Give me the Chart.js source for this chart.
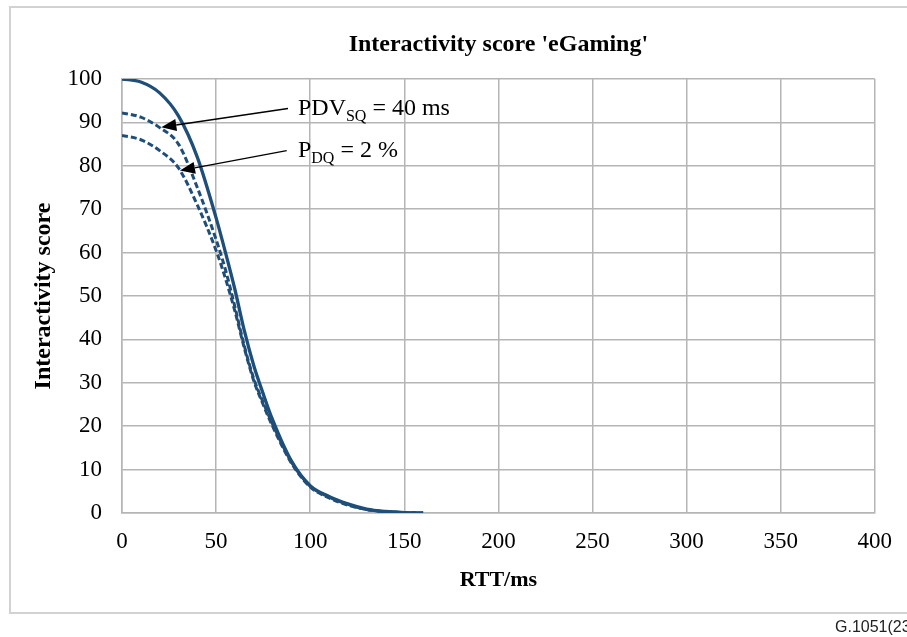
<!DOCTYPE html>
<html>
<head>
<meta charset="utf-8">
<script src="https://cdn.jsdelivr.net/npm/chart.js@4"></script>
<style>
  body { margin: 0; width: 907px; height: 637px; overflow: hidden; background: #fff; position: relative; }
  #frame { position: absolute; left: 9px; top: 6px; width: 1000px; height: 604px;
           border: 2px solid #d2d2d2; border-right: none; }
  #wrap { position: absolute; left: 0; top: 0; width: 907px; height: 637px; }
  #caption { position: absolute; left: 835px; top: 618px; font: 16px "Liberation Sans", Arial, sans-serif;
             color: #222; white-space: nowrap; }
</style>
</head>
<body>
<div id="frame"></div>
<div id="wrap"><canvas id="chart" width="907" height="637"></canvas></div>
<div id="caption">G.1051(23)</div>
<script>
// RTT values (ms) and the three interactivity curves
const rtt = [0, 10, 20, 30, 40, 50, 55, 60, 65, 70, 75, 80, 90, 100, 110, 120, 130, 140, 150, 160];
const scoreBase = [100, 99.3, 96.8, 91.5, 82, 68, 60, 51.5, 42, 34, 27.5, 21.5, 12, 6.3, 3.8, 2.1, 0.9, 0.35, 0.1, 0];
const scorePdv = [92.2, 91.2, 88.8, 85, 75, 63, 56, 47.5, 38.5, 31, 25.5, 20.5, 11.8, 6.2, 3.7, 2.0, 0.8, 0.3, 0.1, 0];
const scorePdq = [87, 86, 83.5, 79.5, 71, 60.5, 54, 46.5, 38, 30.5, 25, 20, 11.5, 6, 3.5, 1.8, 0.8, 0.3, 0.1, 0];

// tick settings
const xTicks = { min: 0, max: 400, step: 50 };
const yTicks = { min: 0, max: 100, step: 10 };

// chart title and annotation labels / arrows (data units)
const chartTitle = "Interactivity score 'eGaming'";
const labelMain = ['PDV', 'P'];
const labelSub = ['SQ', 'DQ'];
const labelRest = [' = 40 ms', ' = 2 %'];
const labelPos = [[93.5, 93.2], [93.5, 83.5]];
const arrowFrom = [[88.2, 93.2], [87.5, 83.5]];
const arrowTo = [[20.9, 88.9], [30.8, 78.9]];

const lineColor = '#1f4e79';
const gridColor = '#b5b5b5';
const serif = '"Liberation Serif", "Times New Roman", serif';

function toPoints(ys) {
    return rtt.map((x, i) => ({ x: x, y: ys[i] }));
}

// Title centred over the plot area, plus arrows and subscripted labels
const annotations = {
    id: 'annotations',
    afterDatasetsDraw(chart) {
        const ctx = chart.ctx;
        const area = chart.chartArea;
        const xs = chart.scales.x;
        const ys = chart.scales.y;
        ctx.save();

        ctx.fillStyle = '#000';
        ctx.font = 'bold 24px ' + serif;
        ctx.textAlign = 'center';
        ctx.textBaseline = 'middle';
        ctx.fillText(chartTitle, (area.left + area.right) / 2, area.top - 34);

        for (let i = 0; i < arrowFrom.length; i++) {
            const x1 = xs.getPixelForValue(arrowFrom[i][0]);
            const y1 = ys.getPixelForValue(arrowFrom[i][1]);
            const x2 = xs.getPixelForValue(arrowTo[i][0]);
            const y2 = ys.getPixelForValue(arrowTo[i][1]);
            const ang = Math.atan2(y2 - y1, x2 - x1);
            const head = 15, half = 6;
            const bx = x2 - head * Math.cos(ang);
            const by = y2 - head * Math.sin(ang);
            ctx.strokeStyle = '#000';
            ctx.lineWidth = 1.3;
            ctx.beginPath();
            ctx.moveTo(x1, y1);
            ctx.lineTo(bx, by);
            ctx.stroke();
            ctx.beginPath();
            ctx.moveTo(x2, y2);
            ctx.lineTo(bx + half * Math.sin(ang), by - half * Math.cos(ang));
            ctx.lineTo(bx - half * Math.sin(ang), by + half * Math.cos(ang));
            ctx.closePath();
            ctx.fill();
        }

        ctx.textAlign = 'left';
        for (let i = 0; i < labelMain.length; i++) {
            let x = xs.getPixelForValue(labelPos[i][0]);
            const y = ys.getPixelForValue(labelPos[i][1]);
            ctx.font = '24px ' + serif;
            ctx.fillText(labelMain[i], x, y);
            x += ctx.measureText(labelMain[i]).width;
            ctx.font = '16px ' + serif;
            ctx.fillText(labelSub[i], x, y + 8);
            x += ctx.measureText(labelSub[i]).width;
            ctx.font = '24px ' + serif;
            ctx.fillText(labelRest[i], x, y);
        }
        ctx.restore();
    }
};

const ctx = document.getElementById('chart').getContext('2d');
const chart = new Chart(ctx, {
    type: 'line',
    data: {
        datasets: [
            {
                label: 'Base',
                data: toPoints(scoreBase),
                borderColor: lineColor,
                borderWidth: 3.3,
                pointRadius: 0,
                cubicInterpolationMode: 'monotone',
                fill: false
            },
            {
                label: 'PDV',
                data: toPoints(scorePdv),
                borderColor: lineColor,
                borderWidth: 3,
                borderDash: [6, 3],
                pointRadius: 0,
                cubicInterpolationMode: 'monotone',
                fill: false
            },
            {
                label: 'PDQ',
                data: toPoints(scorePdq),
                borderColor: lineColor,
                borderWidth: 3,
                borderDash: [6, 3],
                pointRadius: 0,
                cubicInterpolationMode: 'monotone',
                fill: false
            }
        ]
    },
    options: {
        responsive: false,
        animation: false,
        layout: { padding: { left: 0, right: 32, top: 79, bottom: 24 } },
        plugins: {
            legend: { display: false },
            tooltip: { enabled: false },
            title: { display: false }
        },
        scales: {
            x: {
                type: 'linear',
                min: xTicks.min,
                max: xTicks.max,
                afterFit: scale => { scale.height = 100; },
                ticks: { stepSize: xTicks.step, color: '#000', font: { family: serif, size: 23 }, padding: 15, maxRotation: 0 },
                grid: { color: gridColor, lineWidth: 1.5, drawTicks: false },
                border: { color: gridColor, width: 1.5 },
                title: {
                    display: true,
                    text: 'RTT/ms',
                    color: '#000',
                    font: { family: serif, size: 22, weight: 'bold', lineHeight: 1.2 },
                    padding: { top: 0, bottom: 19 }
                }
            },
            y: {
                min: yTicks.min,
                max: yTicks.max,
                afterFit: scale => { scale.width = 122; },
                ticks: { stepSize: yTicks.step, color: '#000', font: { family: serif, size: 23 }, padding: 20 },
                grid: { color: gridColor, lineWidth: 1.5, drawTicks: false },
                border: { color: gridColor, width: 1.5 },
                title: {
                    display: true,
                    text: 'Interactivity score',
                    color: '#000',
                    font: { family: serif, size: 24, weight: 'bold', lineHeight: 1.2 },
                    padding: { top: 29, bottom: 0 }
                }
            }
        }
    },
    plugins: [annotations]
});
</script>
</body>
</html>
